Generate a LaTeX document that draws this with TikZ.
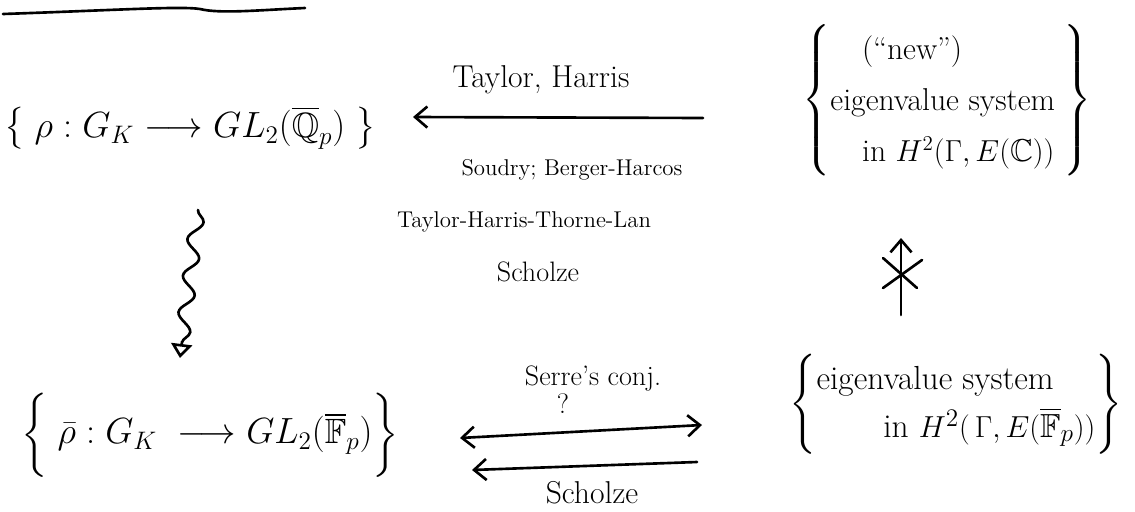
\documentclass[tikz,border=0pt]{standalone}
\usepackage{amssymb}
\usetikzlibrary{arrows.meta,decorations.pathmorphing}
\begin{document}
\begin{tikzpicture}[x=0.02cm,y=-0.02cm,line width=1.5pt,line cap=round,
  mathnode/.style={inner sep=0pt,font=\fontsize{20}{24}\selectfont},
  rbox/.style={inner sep=0pt,font=\fontsize{18}{29}\selectfont},
  rboxb/.style={inner sep=0pt,font=\fontsize{19}{27}\selectfont},
  lblbig/.style={inner sep=0pt,font=\fontsize{18}{22}\selectfont},
  lblmid/.style={inner sep=0pt,font=\fontsize{16}{20}\selectfont},
  lblsmall/.style={inner sep=0pt,font=\fontsize{13}{16}\selectfont},
  arr/.style={-{Straight Barb[length=7pt,width=12pt,line width=1.5pt]}},
  darr/.style={{Straight Barb[length=7pt,width=12pt,line width=1.5pt]}-{Straight Barb[length=7pt,width=12pt,line width=1.5pt]}},
  squig/.style={decorate,decoration={snake,amplitude=4pt,segment length=21pt,post length=7pt}}]
\useasboundingbox (0,0) rectangle (1135,511);

% heading underline (heading text cut off)
\draw (3,14) .. controls (120,10) and (180,6) .. (200,9) .. controls (220,14) and (260,10) .. (305,8);

% nodes
\node[mathnode] (L1) at (190,128) {$\left\{\;\rho : G_K \longrightarrow GL_2(\overline{\mathbb{Q}}_p)\;\right\}$};
\node[mathnode] (L2) at (210,435) {$\left\{\vrule height 25pt depth 19pt width 0pt\;\bar\rho : G_K \;\longrightarrow GL_2(\overline{\mathbb{F}}_p)\right\}$};
\node[rbox] (R1) at (947,100) {$\left\{\begin{tabular}{@{}l@{}}\quad(``new'')\\ eigenvalue system\\ \quad in $H^2(\Gamma, E(\mathbb{C}))$\end{tabular}\;\right\}$};
\node[rboxb] (R2) at (956,404) {$\left\{\begin{tabular}{@{}l@{}}eigenvalue system\\ \qquad in $H^2(\,\Gamma, E(\overline{\mathbb{F}}_p))$\end{tabular}\right\}$};

% labels
\node[lblbig] (tH) at (541,80) {Taylor, Harris};
\node[lblsmall] (sb) at (572,170) {Soudry; Berger-Harcos};
\node[lblsmall] (thtl) at (524,222) {Taylor-Harris-Thorne-Lan};
\node[lblmid] (sch1) at (538,272) {Scholze};
\node[lblmid] (serre) at (593,379) {Serre's conj.};
\node[lblmid] (q) at (563,404) {?};
\node[lblbig] (sch2) at (592,493) {Scholze};

% connector end points
\coordinate (ta) at (703,118);
\coordinate (tb) at (413,117);
\coordinate (va) at (198,210);
\coordinate (vb) at (180,358);
\coordinate (ua) at (901,315);
\coordinate (ub) at (901,238);
\coordinate (da) at (460,438);
\coordinate (db) at (702,425);
\coordinate (ea) at (697,462);
\coordinate (eb) at (472,470);

% connectors
\draw[arr] (ta) -- (tb);
\draw[squig,-{Triangle[open,length=8pt,width=12pt,line width=1.5pt]}] (va) -- (vb);
\draw[arr] (ua) -- (ub);
\draw (883,258) -- (917,288);
\draw (922,260) -- (883,288);
\draw[darr] (da) -- (db);
\draw[arr] (ea) -- (eb);
\end{tikzpicture}
\end{document}
